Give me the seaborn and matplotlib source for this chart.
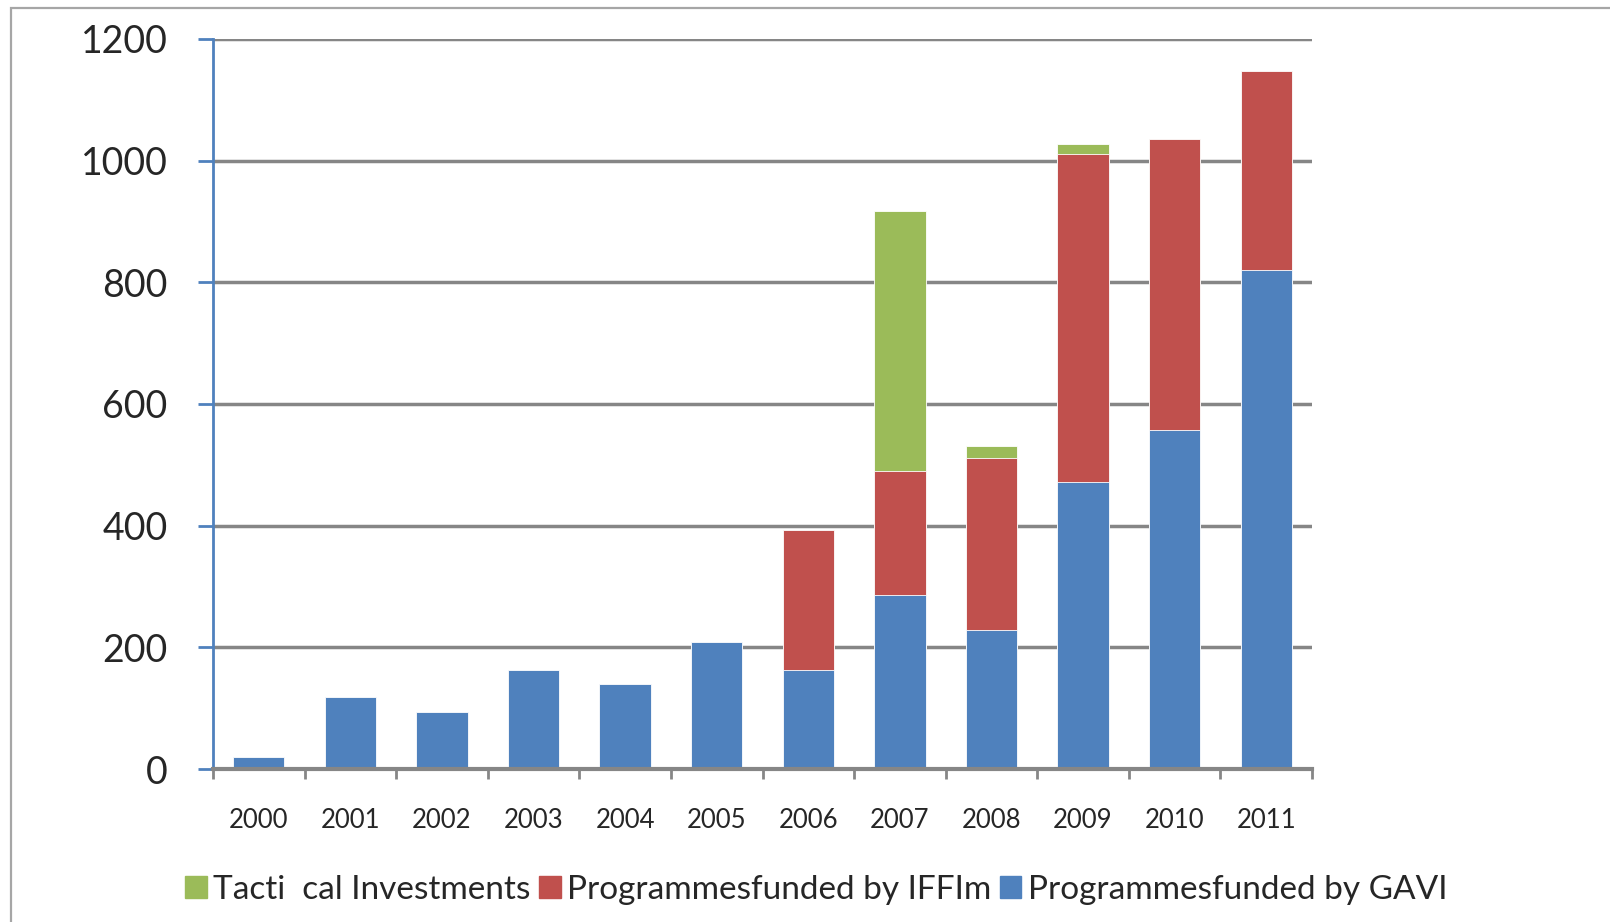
import matplotlib
matplotlib.use("Agg")
import matplotlib.pyplot as plt
import matplotlib.patches as mpatches
import numpy as np
import pandas as pd
import seaborn as sns

years = ["2000", "2001", "2002", "2003", "2004", "2005",
         "2006", "2007", "2008", "2009", "2010", "2011"]
gavi = [20, 118, 93, 162, 140, 209, 162, 286, 228, 471, 557, 820]
iffim = [0, 0, 0, 0, 0, 0, 231, 204, 284, 540, 478, 328]
tactical = [0, 0, 0, 0, 0, 0, 0, 427, 19, 17, 0, 0]

labels = ["Tacti  cal Investments", "Programmesfunded by IFFIm",
          "Programmesfunded by GAVI"]
colors = ["#9BBB59", "#C0504D", "#4F81BD"]

df = pd.DataFrame({"year": years, "gavi": gavi, "iffim": iffim, "tactical": tactical})
df["lvl_gavi"] = df["gavi"]
df["lvl_iffim"] = df["gavi"] + df["iffim"]
df["lvl_tact"] = df["lvl_iffim"] + df["tactical"]

sns.set_style("white")
plt.rcParams["font.family"] = ["Lato", "DejaVu Sans"]

fig = plt.figure(figsize=(16.1, 9.22), dpi=100)
ax = fig.add_axes([213 / 1610, 1 - 769 / 922, (1312 - 213) / 1610, (769 - 39) / 922])

# stacked look: draw cumulative totals, tallest first
for col, c in zip(["lvl_tact", "lvl_iffim", "lvl_gavi"], colors):
    sns.barplot(data=df, x="year", y=col, color=c, width=0.56, ax=ax,
                saturation=1, edgecolor="white", linewidth=0.6, zorder=3)

ax.set_xlim(-0.5, 11.5)
ax.set_ylim(0, 1200)
ax.set_yticks(np.arange(0, 1201, 200))
ax.set_xlabel("")
ax.set_ylabel("")

ax.yaxis.grid(True, color="#868686", lw=2.5, zorder=0)
ax.set_axisbelow(True)

for s in ["top", "right"]:
    ax.spines[s].set_visible(False)
ax.spines["left"].set_color("#4F81BD")
ax.spines["left"].set_linewidth(2)
ax.spines["left"].set_zorder(4)
ax.spines["bottom"].set_color("#868686")
ax.spines["bottom"].set_linewidth(3)
ax.spines["bottom"].set_zorder(4)

ax.tick_params(axis="y", which="major", direction="out", length=10.8, width=2,
               color="#4F81BD", labelsize=27, pad=22, left=True)
ax.set_xticks(np.arange(-0.5, 12, 1), minor=True)
ax.tick_params(axis="x", which="minor", direction="out", length=7, width=2,
               color="#868686", bottom=True)
ax.tick_params(axis="x", which="major", length=0, labelsize=18.5, pad=28)

handles = [mpatches.Patch(color=c, label=l) for c, l in zip(colors, labels)]
fig.legend(handles=handles, loc="center", bbox_to_anchor=(0.507, 1 - 890 / 922),
           ncol=3, frameon=False, fontsize=24, handlelength=0.65, handleheight=0.65,
           handletextpad=0.2, columnspacing=0.25)

fig.add_artist(mpatches.Rectangle((11 / 1610, -0.2), 1.2, 1.2 - 8 / 922,
                                  transform=fig.transFigure, fill=False,
                                  edgecolor="#A6A6A6", lw=1.6))

fig.savefig("out.png", dpi=100)
